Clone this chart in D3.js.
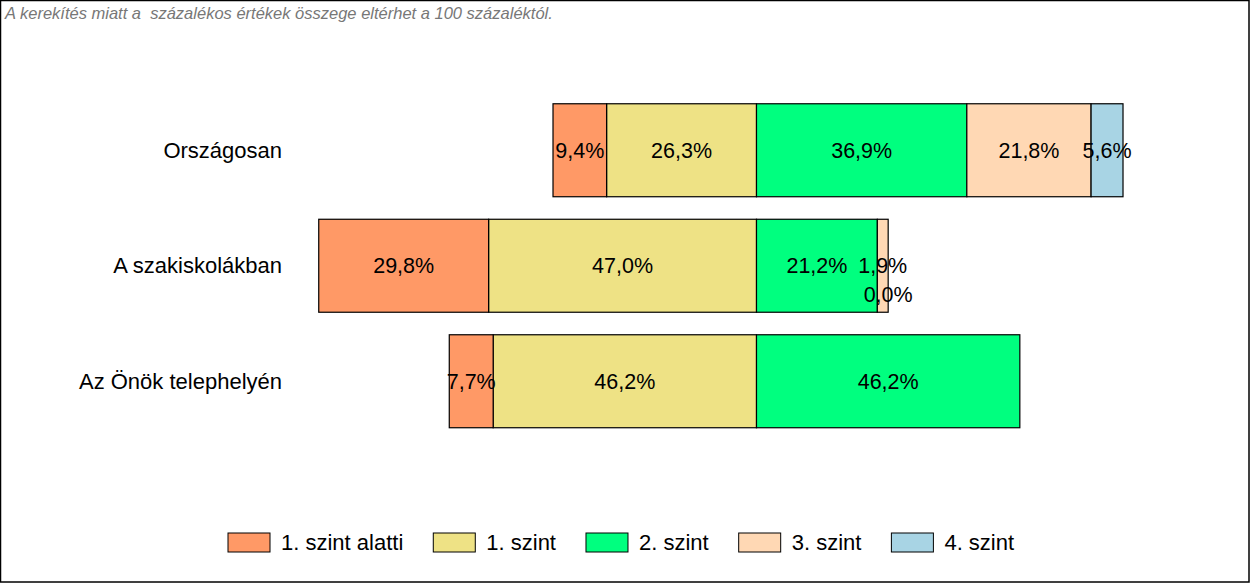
<!DOCTYPE html>
<html><head><meta charset="utf-8">
<script src="https://cdn.jsdelivr.net/npm/d3@7"></script>
<style>body{margin:0;background:#fff}svg{display:block}</style>
</head><body>
<script>
const categories = ["Országosan", "A szakiskolákban", "Az Önök telephelyén"];
const seriesNames = ["1. szint alatti", "1. szint", "2. szint", "3. szint", "4. szint"];
const belowLevel1 = [9.4, 29.8, 7.7];
const level1 = [26.3, 47.0, 46.2];
const level2 = [36.9, 21.2, 46.2];
const level3 = [21.8, 1.9, null];
const level4 = [5.6, 0.0, null];
const colors = ["#FF9966", "#EEE285", "#00FF7F", "#FFD8B4", "#A8D4E4"];
const title = "A kerekítés miatt a  százalékos értékek összege eltérhet a 100 százaléktól.";

const W = 1250, H = 583;
const svg = d3.select("body").append("svg").attr("width", W).attr("height", H);
svg.append("rect").attr("x", 0.5).attr("y", 0.5).attr("width", W - 1.5).attr("height", H - 1.5)
  .attr("fill", "#fff").attr("stroke", "#000").attr("stroke-width", 1.5);

svg.append("text").attr("x", 5).attr("y", 19).attr("font-family", "Liberation Sans, Arial")
  .attr("font-style", "italic").attr("font-size", 16.5).attr("fill", "#777")
  .style("white-space", "pre").text(title);

const x = d3.scaleLinear().domain([-80, 70]).range([300.5, 1155.5]);
const y = d3.scaleBand().domain(categories).range([92.5, 439]).paddingInner(0.195).paddingOuter(0.0975);

const seriesVals = [belowLevel1, level1, level2, level3, level4];
const font = "Liberation Sans, Arial";

categories.forEach((cat, i) => {
  const segs = [];
  let neg = 0;
  [1, 0].forEach(s => {
    const v = seriesVals[s][i];
    if (v == null) return;
    segs.push({s, x0: neg - v, x1: neg, v});
    neg -= v;
  });
  let pos = 0;
  [2, 3, 4].forEach(s => {
    const v = seriesVals[s][i];
    if (v == null) return;
    segs.push({s, x0: pos, x1: pos + v, v});
    pos += v;
  });
  const g = svg.append("g");
  segs.forEach(d => {
    g.append("rect").attr("x", x(d.x0)).attr("y", y(cat))
      .attr("width", x(d.x1) - x(d.x0)).attr("height", y.bandwidth())
      .attr("fill", colors[d.s]).attr("stroke", "#000").attr("stroke-width", 1.2);
  });
  segs.forEach(d => {
    const cy = y(cat) + y.bandwidth() / 2 + (d.v === 0 ? 29 : 0);
    g.append("text").attr("x", (x(d.x0) + x(d.x1)) / 2).attr("y", cy).attr("dy", "0.35em")
      .attr("text-anchor", "middle").attr("font-family", font).attr("font-size", 21.5)
      .attr("fill", "#000").text(d.v.toFixed(1).replace(".", ",") + "%");
  });
  svg.append("text").attr("x", 282).attr("y", y(cat) + y.bandwidth() / 2).attr("dy", "0.35em")
    .attr("text-anchor", "end").attr("font-family", font).attr("font-size", 22).text(cat);
});

// legend
const lg = svg.append("g");
let lx = 228;
seriesNames.forEach((name, s) => {
  lg.append("rect").attr("x", lx).attr("y", 533).attr("width", 42).attr("height", 19)
    .attr("fill", colors[s]).attr("stroke", "#000").attr("stroke-width", 1);
  const t = lg.append("text").attr("x", lx + 53).attr("y", 550).attr("font-family", font)
    .attr("font-size", 22).text(name);
  lx += 53 + t.node().getComputedTextLength() + 30;
});
</script>
</body></html>
